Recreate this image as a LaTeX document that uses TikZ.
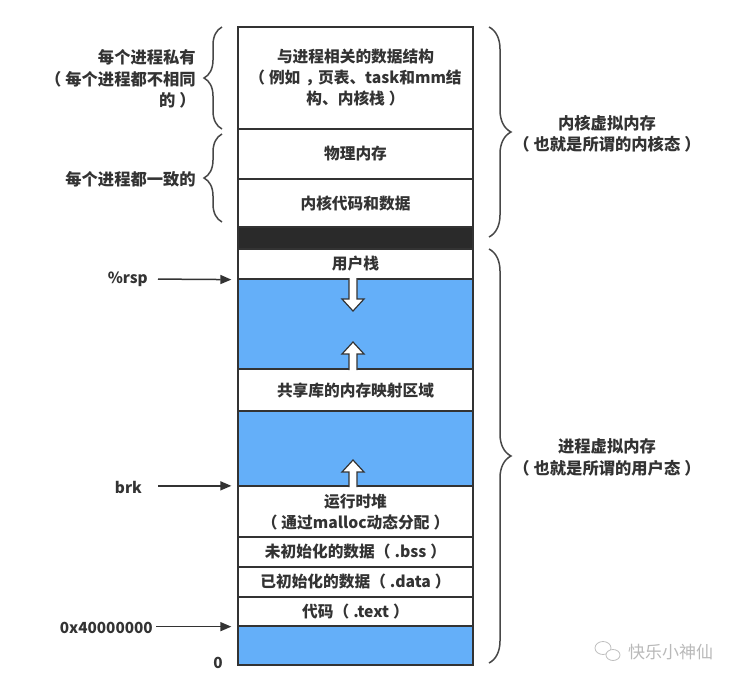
\documentclass[tikz,border=0pt]{standalone}
\usepackage{fontspec}
\setmainfont{Noto Sans CJK SC}
\usetikzlibrary{decorations.pathreplacing,arrows.meta}
\definecolor{ink}{HTML}{333333}
\definecolor{memblue}{HTML}{64AFF9}
\definecolor{barblack}{HTML}{2A2A2A}
\newcommand\zlp{（\kern4pt}
\newcommand\zrp{\kern4pt）}
\newcommand\zcomma{\kern5pt，\kern-3pt}
\begin{document}
\begin{tikzpicture}[x=1pt,y=-1pt,
  region/.style={draw=ink, line width=1.3pt, minimum width=235pt, inner sep=0pt,
    align=center, text=ink, font=\bfseries\fontsize{15.7}{21}\selectfont},
  bluereg/.style={region, fill=memblue},
  lbl/.style={text=ink, inner sep=0pt, font=\bfseries\fontsize{16.3}{21.5}\selectfont},
  ptrlbl/.style={text=ink, inner sep=0pt, font=\bfseries\fontsize{15.3}{18}\selectfont},
  ptr/.style={draw=ink, line width=1.5pt, -{Triangle[length=11pt,width=9pt]}},
  curly/.style={draw=ink!90, line width=1.5pt, decorate, decoration={brace, amplitude=#1}},
  hollow/.style={draw=ink, line width=1.2pt, fill=white, line join=miter}]
\useasboundingbox (0,0) rectangle (740,686);

% memory regions
\node[region, minimum height=102pt] (pcb) at (355.5,78) {与进程相关的数据结构\\\zlp 例如\zcomma 页表、task和mm结\\构、内核栈\zrp};
\node[region, minimum height=50pt] (phys) at (355.5,154) {物理内存};
\node[region, minimum height=48pt] (kcode) at (355.5,203) {内核代码和数据};
\node[region, fill=barblack, minimum height=22pt] (gap) at (355.5,238) {};
\node[region, minimum height=30pt] (ustack) at (355.5,264) {用户栈};
\node[bluereg, minimum height=90pt] (free1) at (355.5,324) {};
\node[region, minimum height=42pt] (shlib) at (355.5,390) {共享库的内存映射区域};
\node[bluereg, minimum height=75pt] (free2) at (355.5,448.5) {};
\node[region, minimum height=51pt] (heap) at (355.5,512) {运行时堆\\\zlp 通过malloc动态分配\zrp};
\node[region, minimum height=30pt] (bss) at (355.5,552) {未初始化的数据\zlp .bss\zrp};
\node[region, minimum height=30pt] (data) at (355.5,582) {已初始化的数据\zlp .data\zrp};
\node[region, minimum height=29pt] (text) at (355.5,611.5) {代码\zlp .text\zrp};
\node[bluereg, minimum height=39pt] (low) at (355.5,645.5) {};

% hollow growth arrows
\draw[hollow] (349,278) -- (349,299) -- (342,299) -- (353,311) -- (364,299) -- (357,299) -- (357,278);
\draw[hollow] (349,370) -- (349,354) -- (342,354) -- (353,342) -- (364,354) -- (357,354) -- (357,370);
\draw[hollow] (349,487) -- (349,472) -- (342,472) -- (353,460) -- (364,472) -- (357,472) -- (357,487);

% left labels and braces
\node[lbl, anchor=east, align=right] (priv) at (196,79) {每个进程私有\\\zlp 每个进程都不相同\\的\zrp};
\node[lbl, anchor=east] (same) at (196,179) {每个进程都一致的};
\coordinate (b1s) at (222,129); \coordinate (b1e) at (222,27);
\coordinate (b2s) at (222,222); \coordinate (b2e) at (222,134);
\draw[curly=18pt] (b1s) -- (b1e);
\draw[curly=18pt] (b2s) -- (b2e);

% right labels and braces
\node[lbl, align=center] (kvm) at (607,134) {内核虚拟内存\\\zlp 也就是所谓的内核态\zrp};
\node[lbl, align=center] (uvm) at (607,457.5) {进程虚拟内存\\\zlp 也就是所谓的用户态\zrp};
\coordinate (b3s) at (489,27); \coordinate (b3e) at (489,237);
\coordinate (b4s) at (489,249); \coordinate (b4e) at (489,663);
\draw[curly=22pt] (b3s) -- (b3e);
\draw[curly=22pt] (b4s) -- (b4e);

% pointers
\node[ptrlbl, anchor=east] (rsp) at (148,279) {\%rsp};
\node[ptrlbl, anchor=east] (brk) at (142,487) {brk};
\node[ptrlbl, anchor=east] (addr) at (153,628) {0x40000000};
\node[ptrlbl] (zero) at (218,663) {0};
\draw[ptr, shorten <=10pt, shorten >=6pt] (rsp.east) -- (ustack.south west);
\draw[ptr, shorten <=16pt, shorten >=6pt] (brk.east |- heap.north west) -- (heap.north west);
\draw[ptr, shorten <=3pt, shorten >=6pt] (addr.east |- text.south west) -- (text.south west);

% watermark
\node[text=gray!55, inner sep=0pt, anchor=west, font=\fontsize{17}{17}\selectfont] (wm) at (628,652) {快乐小神仙};
\draw[gray!50, line width=0.8pt] (603,648) ellipse (8pt and 6.5pt);
\draw[gray!50, line width=0.8pt, fill=white] (613,655) ellipse (7pt and 5.5pt);
\end{tikzpicture}
\end{document}
